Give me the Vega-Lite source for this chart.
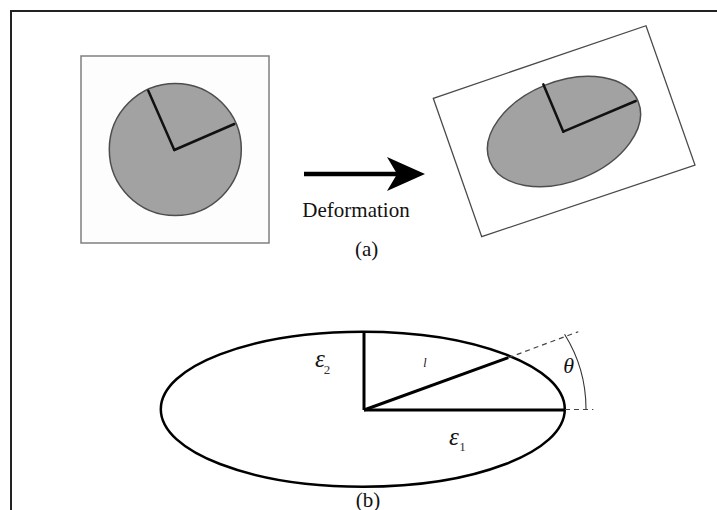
{
  "$schema": "https://vega.github.io/schema/vega-lite/v6.json",
  "width": 717,
  "height": 510,
  "padding": 0,
  "autosize": {"type": "none"},
  "background": "white",
  "config": {"view": {"stroke": null}},
  "encoding": {
    "x": {"field": "x", "type": "quantitative", "scale": {"domain": [0, 717], "nice": false, "zero": false}, "axis": null},
    "y": {"field": "y", "type": "quantitative", "scale": {"domain": [0, 510], "reverse": true, "nice": false, "zero": false}, "axis": null}
  },
  "layer": [
    {
      "data": {"values": [
        {"x": 10, "y": 11, "x2": 717, "y2": 11},
        {"x": 11, "y": 10, "x2": 11, "y2": 510}
      ]},
      "mark": {"type": "rule", "stroke": "#222222", "strokeWidth": 2},
      "encoding": {"x2": {"field": "x2"}, "y2": {"field": "y2"}}
    },
    {
      "data": {"values": [{"x": 81, "y": 56, "x2": 269, "y2": 243}]},
      "mark": {"type": "rect", "fill": "#fdfdfd", "stroke": "#808080", "strokeWidth": 1.5},
      "encoding": {"x2": {"field": "x2"}, "y2": {"field": "y2"}}
    },
    {
      "data": {"values": [{"x": 175.3, "y": 149.5}]},
      "mark": {"type": "point", "shape": "circle", "size": 17424, "filled": true, "fill": "#a2a2a2", "stroke": "#4d4d4d", "strokeWidth": 1.5, "opacity": 1}
    },
    {
      "data": {"values": [
        {"x": 174.3, "y": 150, "x2": 148.3, "y2": 90.7},
        {"x": 174.3, "y": 150, "x2": 234.3, "y2": 124}
      ]},
      "mark": {"type": "rule", "stroke": "#111111", "strokeWidth": 2.5, "strokeCap": "round"},
      "encoding": {"x2": {"field": "x2"}, "y2": {"field": "y2"}}
    },
    {
      "data": {"values": [
        {"x": 433.3, "y": 98.3, "o": 1},
        {"x": 646, "y": 25.7, "o": 2},
        {"x": 695, "y": 165, "o": 3},
        {"x": 481.7, "y": 236.7, "o": 4},
        {"x": 433.3, "y": 98.3, "o": 5}
      ]},
      "mark": {"type": "line", "stroke": "#4a4a4a", "strokeWidth": 1.3, "strokeJoin": "miter", "strokeCap": "square"},
      "encoding": {"order": {"field": "o", "type": "quantitative"}}
    },
    {
      "data": {"values": [{"x": 564, "y": 131.5}]},
      "mark": {"type": "point", "shape": "M -1 0 A 1 0.625 0 0 0 1 0 A 1 0.625 0 0 0 -1 0 Z", "size": 25600, "angle": -22, "filled": true, "fill": "#a2a2a2", "stroke": "#4d4d4d", "strokeWidth": 1.5, "opacity": 1}
    },
    {
      "data": {"values": [
        {"x": 563.3, "y": 131.7, "x2": 543.3, "y2": 84.3},
        {"x": 563.3, "y": 131.7, "x2": 635.7, "y2": 101}
      ]},
      "mark": {"type": "rule", "stroke": "#111111", "strokeWidth": 2.5, "strokeCap": "round"},
      "encoding": {"x2": {"field": "x2"}, "y2": {"field": "y2"}}
    },
    {
      "data": {"values": [{"x": 304, "y": 174, "x2": 398, "y2": 174}]},
      "mark": {"type": "rule", "stroke": "#000000", "strokeWidth": 4.5},
      "encoding": {"x2": {"field": "x2"}, "y2": {"field": "y2"}}
    },
    {
      "data": {"values": [{"x": 406, "y": 174}]},
      "mark": {"type": "point", "shape": "M 1 0 L -1 -0.9 L -0.47 0 L -1 0.9 Z", "size": 1444, "filled": true, "fill": "#000000", "strokeWidth": 0, "opacity": 1}
    },
    {
      "data": {"values": [{"x": 362.8, "y": 409.2}]},
      "mark": {"type": "point", "shape": "M -1 0 A 1 0.3837 0 0 0 1 0 A 1 0.3837 0 0 0 -1 0 Z", "size": 163216, "filled": false, "stroke": "#000000", "strokeWidth": 2.5, "opacity": 1}
    },
    {
      "data": {"values": [
        {"x": 364, "y": 410, "x2": 364, "y2": 331.7},
        {"x": 364, "y": 410, "x2": 565, "y2": 410},
        {"x": 364, "y": 410, "x2": 508.3, "y2": 357.7}
      ]},
      "mark": {"type": "rule", "stroke": "#000000", "strokeWidth": 3},
      "encoding": {"x2": {"field": "x2"}, "y2": {"field": "y2"}}
    },
    {
      "data": {"values": [
        {"x": 508.3, "y": 357.7, "x2": 578.3, "y2": 331.7},
        {"x": 565, "y": 409.5, "x2": 593.3, "y2": 409.5}
      ]},
      "mark": {"type": "rule", "stroke": "#444444", "strokeWidth": 1.2, "strokeDash": [5, 4]},
      "encoding": {"x2": {"field": "x2"}, "y2": {"field": "y2"}}
    },
    {
      "data": {"values": [{"x": 445, "y": 409}]},
      "mark": {"type": "point", "shape": "M 1 0 A 1 1 0 0 0 0.848 -0.53", "size": 79524, "filled": false, "stroke": "#333333", "strokeWidth": 1.1, "opacity": 1}
    },
    {
      "data": {"values": [
        {"x": 356, "y": 216.7, "t": "Deformation"},
        {"x": 366.7, "y": 256, "t": "(a)"},
        {"x": 368, "y": 507, "t": "(b)"}
      ]},
      "mark": {"type": "text", "font": "Liberation Serif, Times New Roman, serif", "fontSize": 21, "align": "center", "baseline": "alphabetic", "color": "#111111"},
      "encoding": {"text": {"field": "t"}}
    },
    {
      "data": {"values": [
        {"x": 320, "y": 367.3, "t": "ε"},
        {"x": 454, "y": 445, "t": "ε"}
      ]},
      "mark": {"type": "text", "font": "Liberation Serif, Times New Roman, serif", "fontSize": 25, "fontStyle": "italic", "align": "center", "baseline": "alphabetic", "color": "#111111"},
      "encoding": {"text": {"field": "t"}}
    },
    {
      "data": {"values": [{"x": 568.7, "y": 373.3, "t": "θ"}]},
      "mark": {"type": "text", "font": "Liberation Serif, Times New Roman, serif", "fontSize": 22, "fontStyle": "italic", "align": "center", "baseline": "alphabetic", "color": "#111111"},
      "encoding": {"text": {"field": "t"}}
    },
    {
      "data": {"values": [
        {"x": 327, "y": 374, "t": "2"},
        {"x": 462.5, "y": 451, "t": "1"}
      ]},
      "mark": {"type": "text", "font": "Liberation Serif, Times New Roman, serif", "fontSize": 13, "align": "center", "baseline": "alphabetic", "color": "#333333"},
      "encoding": {"text": {"field": "t"}}
    },
    {
      "data": {"values": [{"x": 425, "y": 367.3, "t": "l"}]},
      "mark": {"type": "text", "font": "Liberation Serif, Times New Roman, serif", "fontSize": 12, "fontStyle": "italic", "align": "center", "baseline": "alphabetic", "color": "#111111"},
      "encoding": {"text": {"field": "t"}}
    }
  ]
}
